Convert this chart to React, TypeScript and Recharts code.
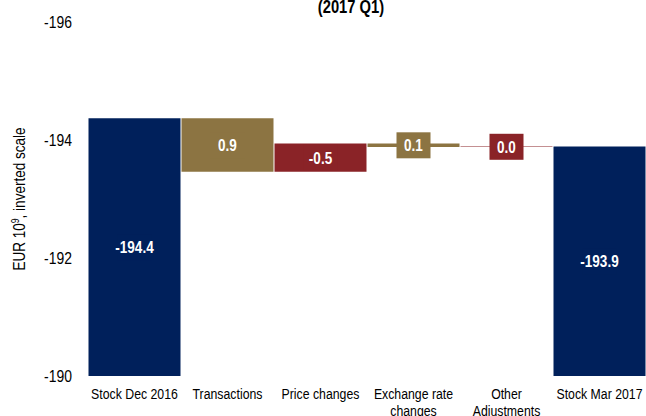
import React from 'react';
import { BarChart, Bar, XAxis, YAxis, Cell, LabelList, Text } from 'recharts';

const categories = [
  'Stock Dec 2016',
  'Transactions',
  'Price changes',
  'Exchange rate changes',
  'Other Adjustments',
  'Stock Mar 2017'
];
// first and last are stock levels, the rest are flows
const values = [-194.37, 0.91, -0.48, 0.06, -0.01, -193.89];
const yTicks = [-196, -194, -192, -190];

const NAVY = '#00205b';
const GOLD = '#8c7442';
const RED = '#8a2327';
const FONT = '"Liberation Sans", Arial, sans-serif';
// Liberation Sans squeezed to look like Arial Narrow
const SX = 0.82;

const data = (() => {
  let level = values[0];
  return categories.map((name, i) => {
    const v = values[i];
    if (i === 0 || i === categories.length - 1) {
      level = v;
      return { name, range: [-190, v], label: v, color: NAVY };
    }
    const start = level;
    level = start + v;
    return { name, range: [start, level], label: v, color: v >= 0 ? GOLD : RED };
  });
})();

const fmt = (v: number) => {
  const r = Math.round(v * 10) / 10;
  return (r === 0 ? 0 : r).toFixed(1);
};

function BarLabel(props: any) {
  const { x, y, width, height, value, index } = props;
  const cx = x + width / 2;
  const cy = y + height / 2;
  return (
    <g>
      <rect x={cx - 17} y={cy - 13} width={34} height={26} fill={data[index].color} />
      <g transform={`translate(${cx} ${cy + 6}) scale(${SX} 1)`}>
        <text textAnchor="middle" fill="#fff" fontWeight="bold" fontSize={16.5} fontFamily={FONT}>
          {fmt(value)}
        </text>
      </g>
    </g>
  );
}

function CatTick(props: any) {
  const { x, y, payload } = props;
  return (
    <g transform={`translate(${x} ${y + 4}) scale(${SX} 1)`}>
      <Text
        x={0}
        y={0}
        width={118}
        textAnchor="middle"
        verticalAnchor="start"
        lineHeight={17}
        fontSize={15}
        fontFamily={FONT}
        fill="#000"
        style={{ fontSize: 15, fontFamily: FONT }}
      >
        {payload.value}
      </Text>
    </g>
  );
}

function ValTick(props: any) {
  const { x, y, payload } = props;
  return (
    <g transform={`translate(${x} ${y + 6}) scale(${SX} 1)`}>
      <text textAnchor="end" fontSize={17} fontFamily={FONT} fill="#000">
        {payload.value}
      </text>
    </g>
  );
}

function YLabel(props: any) {
  const { viewBox } = props;
  const cx = viewBox.x + 20;
  const cy = viewBox.y + viewBox.height / 2;
  return (
    <g transform={`translate(${cx} ${cy}) rotate(-90) scale(${SX} 1)`}>
      <text x={0} y={5} textAnchor="middle" fontSize={16.5} fontFamily={FONT} fill="#000">
        EUR 10
        <tspan dy={-6} fontSize={10.5}>9</tspan>
        <tspan dy={6}>, inverted scale</tspan>
      </text>
    </g>
  );
}

export default function App() {
  return (
    <div style={{ position: 'absolute', left: 0, top: 0, width: 646, height: 416 }}>
      <svg
        width={200}
        height={30}
        style={{ position: 'absolute', left: 251, top: 0, zIndex: 2 }}
      >
        <g transform={`translate(100 13) scale(${SX} 1)`}>
          <text textAnchor="middle" fontWeight="bold" fontSize={18} fontFamily={FONT} fill="#000">
            (2017 Q1)
          </text>
        </g>
      </svg>
      <BarChart
        width={646}
        height={416}
        data={data}
        margin={{ top: 22, right: 0, bottom: 0, left: 0 }}
        barCategoryGap={0.5}
      >
        <XAxis
          dataKey="name"
          axisLine={false}
          tickLine={false}
          height={40}
          interval={0}
          tick={<CatTick />}
        />
        <YAxis
          reversed
          domain={[-196, -190]}
          ticks={yTicks}
          width={88}
          axisLine={false}
          tickLine={false}
          tickMargin={10}
          tick={<ValTick />}
          label={<YLabel />}
        />
        <Bar dataKey="range" isAnimationActive={false}>
          {data.map((d, i) => (
            <Cell key={i} fill={d.color} />
          ))}
          <LabelList dataKey="label" content={<BarLabel />} />
        </Bar>
      </BarChart>
    </div>
  );
}
